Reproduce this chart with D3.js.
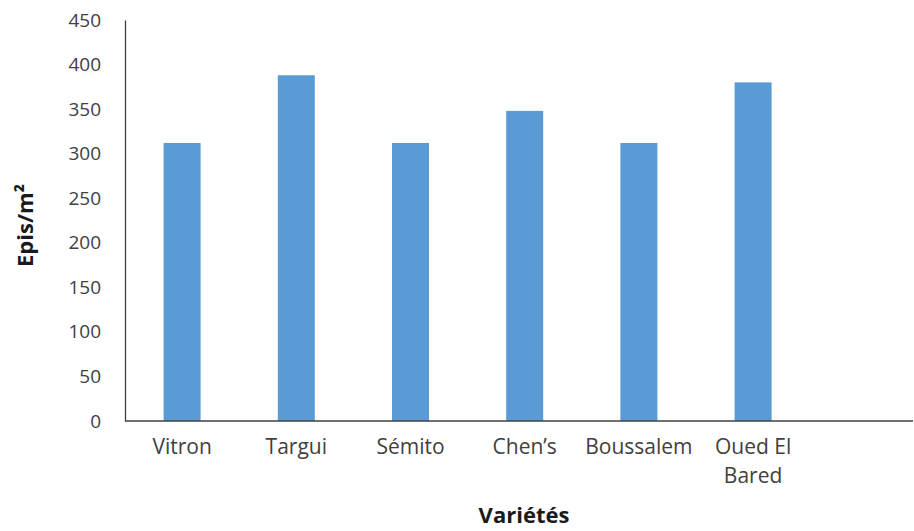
<!DOCTYPE html>
<html>
<head>
<meta charset="utf-8">
<script src="https://cdn.jsdelivr.net/npm/d3@7"></script>
<style>
  body { margin: 0; background: #fff; }
  svg text { font-family: "Open Sans", "Noto Sans", sans-serif; fill: #404040; }
</style>
</head>
<body>
<svg id="chart" width="914" height="531"></svg>
<script>
  // data
  var categories = ['Vitron', 'Targui', 'Sémito', 'Chen’s', 'Boussalem', 'Oued El Bared'];
  var values = [312, 388, 312, 348, 312, 380];
  var yTicks = [0, 50, 100, 150, 200, 250, 300, 350, 400, 450];

  var svg = d3.select('#chart'),
      margin = {top: 20, right: 1, bottom: 110, left: 125},
      width = +svg.attr('width') - margin.left - margin.right,
      height = +svg.attr('height') - margin.top - margin.bottom,
      g = svg.append('g').attr('transform', 'translate(' + margin.left + ',' + margin.top + ')');

  var step = 114.2;

  var xScale = d3.scaleBand()
      .domain(categories)
      .range([0, step * categories.length])
      .paddingInner(0.676)
      .paddingOuter(0.338);

  var yScale = d3.scaleLinear()
      .domain([0, 450])
      .range([height, 0]);

  // bars
  g.append('g')
      .attr('class', 'bars')
    .selectAll('rect')
    .data(values)
    .enter().append('rect')
      .attr('x', function (d, i) { return xScale(categories[i]); })
      .attr('y', function (d) { return yScale(d); })
      .attr('width', xScale.bandwidth())
      .attr('height', function (d) { return height - yScale(d); })
      .attr('fill', '#5B9BD5');

  // y axis
  var yAxis = d3.axisLeft(yScale)
      .tickValues(yTicks)
      .tickSize(0)
      .tickPadding(24);

  var yAxisGroup = g.append('g').attr('class', 'y axis').call(yAxis);
  yAxisGroup.select('.domain').attr('stroke', '#404040').attr('stroke-width', 1.3);
  yAxisGroup.selectAll('.tick text')
      .style('font-size', '19px')
      .attr('fill', '#404040');

  // x axis (line runs on past the last category, as in the original)
  var xAxis = d3.axisBottom(xScale).tickSize(0).tickPadding(18);
  var xAxisGroup = g.append('g')
      .attr('class', 'x axis')
      .attr('transform', 'translate(0,' + height + ')')
      .call(xAxis);
  xAxisGroup.select('.domain').remove();
  xAxisGroup.append('line')
      .attr('x1', 0)
      .attr('x2', width)
      .attr('stroke', '#404040')
      .attr('stroke-width', 1.3);
  xAxisGroup.selectAll('.tick text')
      .style('font-size', '21px')
      .attr('fill', '#404040')
      .call(wrap, 100);

  // axis titles
  g.append('text')
      .attr('transform', 'rotate(-90)')
      .attr('x', 0 - (height / 2) - 5)
      .attr('y', 33 - margin.left)
      .style('text-anchor', 'middle')
      .style('font-size', '22px')
      .style('font-weight', 'bold')
      .style('fill', '#1a1a1a')
      .text('Epis/m²');

  g.append('text')
      .attr('x', 524 - margin.left)
      .attr('y', 523 - margin.top)
      .style('text-anchor', 'middle')
      .style('font-size', '22px')
      .style('font-weight', 'bold')
      .style('fill', '#1a1a1a')
      .text('Variétés');

  function wrap(texts, maxWidth) {
    texts.each(function () {
      var text = d3.select(this),
          words = text.text().split(/\s+/),
          y = text.attr('y'),
          dy = parseFloat(text.attr('dy')),
          line = [],
          lineNumber = 0,
          tspan = text.text(null).append('tspan').attr('x', 0).attr('y', y).attr('dy', dy + 'em');
      words.forEach(function (word) {
        line.push(word);
        tspan.text(line.join(' '));
        if (tspan.node().getComputedTextLength() > maxWidth && line.length > 1) {
          line.pop();
          tspan.text(line.join(' '));
          line = [word];
          lineNumber++;
          tspan = text.append('tspan')
              .attr('x', 0)
              .attr('y', y)
              .attr('dy', (lineNumber * 1.38 + dy) + 'em')
              .text(word);
        }
      });
    });
  }
</script>
</body>
</html>
